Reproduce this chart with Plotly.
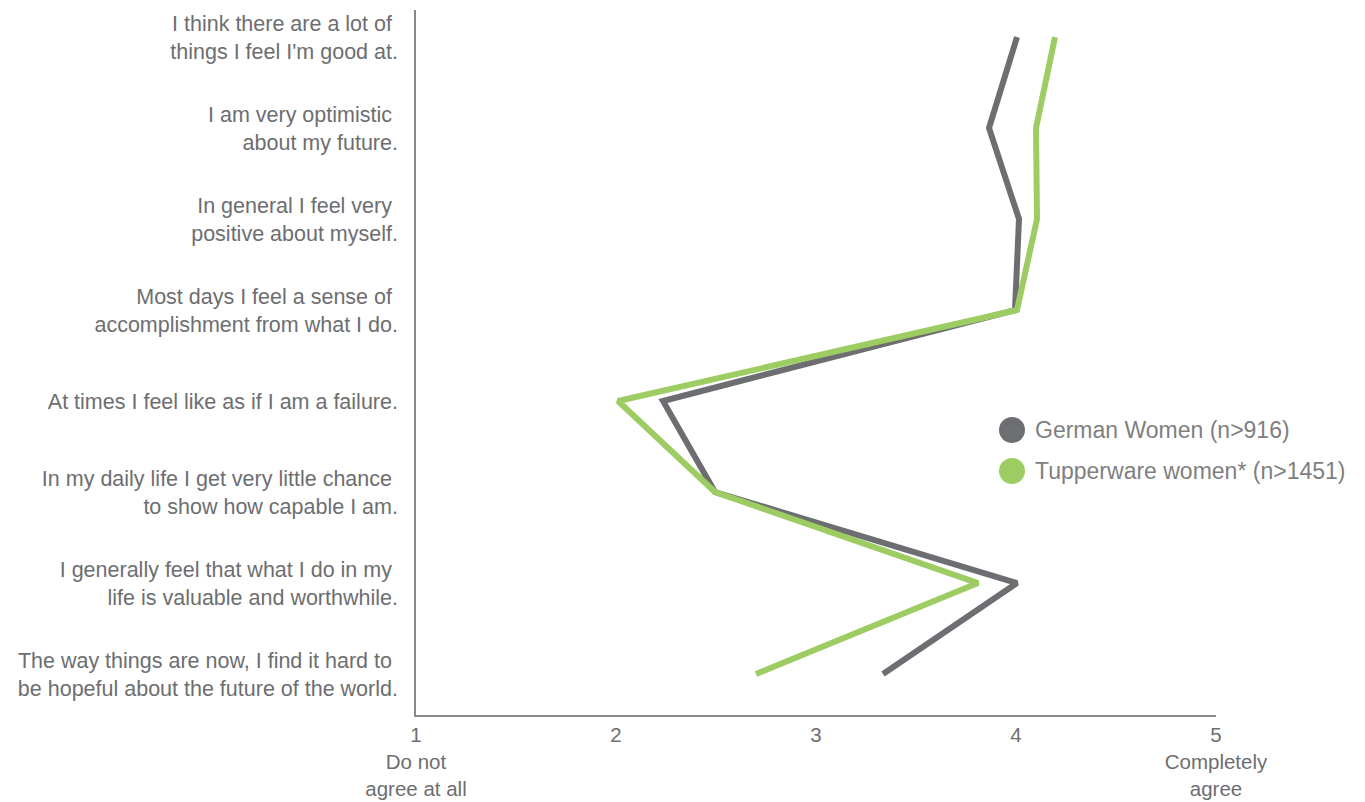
import plotly.graph_objects as go

statements = [
    "I think there are a lot of <br>things I feel I'm good at.",
    "I am very optimistic <br>about my future.",
    "In general I feel very <br>positive about myself.",
    "Most days I feel a sense of <br>accomplishment from what I do.",
    "At times I feel like as if I am a failure.",
    "In my daily life I get very little chance <br>to show how capable I am.",
    "I generally feel that what I do in my <br>life is valuable and worthwhile.",
    "The way things are now, I find it hard to <br>be hopeful about the future of the world.",
]
german_women = [4.005, 3.865, 4.015, 3.995, 2.235, 2.495, 4.005, 3.335]
tupperware_women = [4.195, 4.10, 4.105, 4.005, 2.01, 2.495, 3.81, 2.70]
x_ticks = [1, 2, 3, 4, 5]
x_ticktext = ["1<br>Do not<br>agree at all", "2", "3", "4", "5<br>Completely<br>agree"]
series_names = ["German Women (n>916)", "Tupperware women* (n>1451)"]

GRAY = "#6d6e71"
GREEN = "#9dcd62"
TEXT = "#6d6e71"
FONT = "Liberation Sans, Arial, sans-serif"

ypos = list(range(len(statements)))

fig = go.Figure()
fig.add_trace(go.Scatter(x=german_women, y=ypos, mode="lines",
                         line=dict(color=GRAY, width=6), name=series_names[0],
                         showlegend=False))
fig.add_trace(go.Scatter(x=tupperware_women, y=ypos, mode="lines",
                         line=dict(color=GREEN, width=6), name=series_names[1],
                         showlegend=False))

fig.update_layout(
    width=1365, height=802,
    margin=dict(l=416, r=149, t=10, b=87),
    paper_bgcolor="white", plot_bgcolor="white",
    font=dict(family=FONT, size=21.5, color=TEXT),
    xaxis=dict(range=[1, 5], tickvals=x_ticks, ticktext=x_ticktext,
               showgrid=False, zeroline=False, showline=True,
               linecolor="#8a8a8a", linewidth=1.5, ticks="",
               ticklabelstandoff=1, automargin=False,
               tickfont=dict(family=FONT, size=20.5, color=TEXT)),
    yaxis=dict(range=[7.45, -0.297], tickvals=ypos, ticktext=statements,
               showgrid=False, zeroline=False, showline=True,
               linecolor="#8a8a8a", linewidth=1.5, ticks="",
               ticklabelstandoff=12, automargin=False,
               tickfont=dict(family=FONT, size=21.5, color=TEXT)),
)

legend_colors = [GRAY, GREEN]
legend_y = [0.4043, 0.3461]
for name, col, ly in zip(series_names, legend_colors, legend_y):
    fig.add_shape(type="circle", xref="paper", yref="paper",
                  xsizemode="pixel", ysizemode="pixel",
                  xanchor=0.745, yanchor=ly,
                  x0=-13, x1=13, y0=-13, y1=13,
                  fillcolor=col, line=dict(width=0))
    fig.add_annotation(xref="paper", yref="paper", x=0.771, y=ly,
                       text=name, showarrow=False, xanchor="left", yanchor="middle",
                       font=dict(family=FONT, size=23, color="#7f7f7f"))

fig.write_html("out.html")
